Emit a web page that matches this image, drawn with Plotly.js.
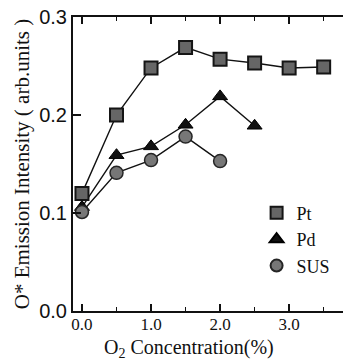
<!DOCTYPE html>
<html>
<head>
<meta charset="utf-8">
<script src="https://cdn.plot.ly/plotly-3.0.1.min.js"></script>
<style>html,body{margin:0;padding:0;background:#fff;}#chart{width:343px;height:361px;}</style>
</head>
<body>
<div id="chart"></div>
<script>
const ptX = [0, 0.5, 1.0, 1.5, 2.0, 2.5, 3.0, 3.5];
const ptY = [0.12, 0.20, 0.248, 0.269, 0.257, 0.253, 0.248, 0.249];
const pdX = [0, 0.5, 1.0, 1.5, 2.0, 2.5];
const pdY = [0.106, 0.159, 0.168, 0.19, 0.219, 0.189];
const susX = [0, 0.5, 1.0, 1.5, 2.0];
const susY = [0.101, 0.141, 0.154, 0.178, 0.153];
const seriesNames = ['Pt', 'Pd', 'SUS'];
const xTickVals = [0, 1, 2, 3];
const xTickText = ['0.0', '1.0', '2.0', '3.0'];
const yTickVals = [0, 0.1, 0.2, 0.3];
const yTickText = ['0.0', '0.1', '0.2', '0.3'];

const serif = 'Liberation Serif, Times New Roman, serif';
const sans = 'Liberation Sans, Arial, sans-serif';

const series = [
  {x: ptX, y: ptY, name: seriesNames[0], marker: {symbol: 'square', size: 13, color: '#666', line: {color: '#151515', width: 2}}},
  {x: pdX, y: pdY, name: seriesNames[1], marker: {symbol: 'triangle-up', size: 13, color: '#111', line: {color: '#000', width: 1}}},
  {x: susX, y: susY, name: seriesNames[2], marker: {symbol: 'circle', size: 13, color: '#777', line: {color: '#252525', width: 1.5}}}
];

const traces = [];
series.forEach(s => {
  traces.push({x: s.x, y: s.y, type: 'scatter', mode: 'lines', line: {color: '#111', width: 1.4}, showlegend: false, hoverinfo: 'skip'});
});
series.forEach(s => {
  traces.push({x: s.x, y: s.y, type: 'scatter', mode: 'markers', name: s.name, marker: s.marker, showlegend: true});
});

const layout = {
  width: 343, height: 361,
  margin: {l: 73, r: 0, t: 17, b: 50, pad: 0},
  paper_bgcolor: '#fff', plot_bgcolor: '#fff',
  showlegend: true,
  legend: {x: 0.68, y: 0.396, xanchor: 'left', yanchor: 'top', bgcolor: 'rgba(0,0,0,0)',
    font: {family: serif, size: 18, color: '#111'}, tracegroupgap: 0, itemwidth: 30, itemsizing: 'constant'},
  xaxis: {
    range: [-0.13, 3.78], showgrid: false, zeroline: false,
    showline: true, linecolor: '#111', linewidth: 2, mirror: 'ticks',
    ticks: 'inside', ticklen: 7, tickwidth: 1.5, tickcolor: '#111',
    tickvals: xTickVals, ticktext: xTickText, ticklabelstandoff: -3,
    minor: {dtick: 0.5, ticks: 'inside', ticklen: 4, tickwidth: 1.5, tickcolor: '#111', showgrid: false},
    tickfont: {family: serif, size: 17, color: '#111'}
  },
  yaxis: {
    range: [0, 0.3], showgrid: false, zeroline: false,
    showline: true, linecolor: '#111', linewidth: 2, mirror: false,
    ticks: 'inside', ticklen: 8, tickwidth: 1.5, tickcolor: '#111',
    tickvals: yTickVals, ticktext: yTickText,
    tickfont: {family: sans, size: 20, color: '#111'},
    title: {text: 'O* Emission Intensity ( arb.units )', font: {family: serif, size: 21, color: '#111'}, standoff: 4}
  },
  yaxis2: {
    range: [0, 0.3], overlaying: 'y', side: 'right', showgrid: false, zeroline: false,
    showline: false, showticklabels: false,
    ticks: 'inside', ticklen: 7, tickwidth: 1.5, tickcolor: '#111', tickvals: yTickVals
  },
  annotations: [{
    text: 'O<sub>2</sub> Concentration(%)', xref: 'paper', yref: 'paper',
    x: 0.43, y: -0.078, xanchor: 'center', yanchor: 'top', showarrow: false,
    font: {family: serif, size: 20, color: '#111'}
  }]
};

Plotly.newPlot('chart', traces, layout, {displayModeBar: false, staticPlot: true});
</script>
</body>
</html>
